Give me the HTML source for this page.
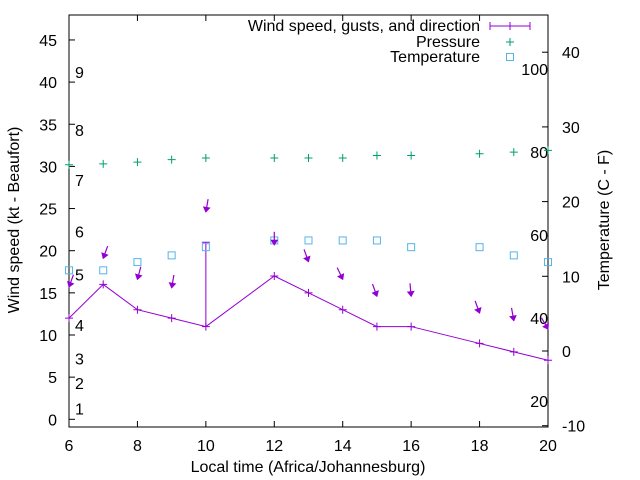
<!DOCTYPE html>
<html><head><meta charset="utf-8"><style>
html,body{margin:0;padding:0;background:#fff;}
svg{display:block;font-family:"Liberation Sans",sans-serif;}
</style></head><body>
<svg id="chart" width="640" height="480" viewBox="0 0 640 480"></svg>
<script>
const hours = [6,7,8,9,10,12,13,14,15,16,18,19,20];
const windSpeed = [12,16,13,12,11,17,15,13,11,11,9,8,7];
const gustHours = [10];
const gustValues = [21];
const pressure = [30.2,30.3,30.5,30.8,31,31,31,31,31.3,31.3,31.5,31.7,31.9];
const temperatureC = [10.8,10.8,11.9,12.8,13.9,14.8,14.8,14.8,14.8,13.9,13.9,12.8,11.9];
const arrowLevel = [15.7,19.1,16.6,15.6,24.6,20.7,18.7,16.6,14.6,14.6,12.6,11.7,10.7];
const windDirDeg = [20,20,15,10,10,0,340,335,340,355,340,350,330];
const xTicks = [6,8,10,12,14,16,18,20];
const yTicks = [0,5,10,15,20,25,30,35,40,45];
const y2Ticks = [-10,0,10,20,30,40];
const beaufortLevels = [1,2,3,4,5,6,7,8,9];
const beaufortKt = [1.3,4.3,7.2,11.2,17.2,22.3,28.4,34.3,41.2];
const fahrenheitTicks = [20,40,60,80,100];

const L=69,R=548,T=15,B=427;
const X=h=>L+(h-6)*(R-L)/14;
const Y=v=>419.3-v*8.43;
const Y2=c=>425.7-(c+10)*7.47;
const ns="http://www.w3.org/2000/svg";
const svg=document.getElementById('chart');
function mk(tag,attrs,parent){const e=document.createElementNS(ns,tag);for(const k in attrs)e.setAttribute(k,attrs[k]);(parent||svg).appendChild(e);return e;}
function txt(s,x,y,anchor,parent,extra){const e=mk('text',Object.assign({x:x,y:y,'font-size':16,fill:'#000','text-anchor':anchor||'start'},extra||{}),parent);e.textContent=s;return e;}

const frame=mk('rect',{x:L,y:T,width:R-L,height:B-T,fill:'none',stroke:'#000','stroke-width':1});



xTicks.forEach(t=>{
  const g=mk('g',{});
  
  
  mk('line',{x1:X(t),x2:X(t),y1:B,y2:B-6,stroke:'#000'},g);
  mk('line',{x1:X(t),x2:X(t),y1:T,y2:T+6,stroke:'#000'},g);
  txt(String(t),X(t),451,'middle',g);
});
yTicks.forEach(t=>{
  const g=mk('g',{});
  
  
  mk('line',{x1:L,x2:L+6,y1:Y(t),y2:Y(t),stroke:'#000'},g);
  txt(String(t),57,Y(t)+6,'end',g);
});
y2Ticks.forEach(t=>{
  const g=mk('g',{});
  
  
  mk('line',{x1:R,x2:R-6,y1:Y2(t),y2:Y2(t),stroke:'#000'},g);
  txt(String(t),562,Y2(t)+6,'start',g);
});
beaufortLevels.forEach((b,i)=>{
  const e=txt(String(b),75,Y(beaufortKt[i])+6,'start');
  
  
});
fahrenheitTicks.forEach(f=>{
  const c=(f-32)*5/9;
  const e=txt(String(f),548,Y2(c)+6,'end');
  
  
});

let e=txt('Local time (Africa/Johannesburg)',308,472,'middle');


e=txt('Wind speed (kt - Beaufort)',0,0,'middle',svg,{transform:'translate(19,220) rotate(-90)'});


e=txt('Temperature (C - F)',0,0,'middle',svg,{transform:'translate(609,220) rotate(-90)'});



const purple='#9400d3',green='#009e73',cyan='#56b4e9';
function plus(x,y,c,parent){mk('path',{d:`M${x-4} ${y}H${x+4}M${x} ${y-4}V${y+4}`,stroke:c,'stroke-width':1,fill:'none'},parent);}
function square(x,y,parent){mk('rect',{x:x-3.5,y:y-3.5,width:7,height:7,fill:'none',stroke:cyan,'stroke-width':1},parent);}

const wl=mk('polyline',{points:hours.map((h,i)=>X(h)+','+Y(windSpeed[i])).join(' '),fill:'none',stroke:purple,'stroke-width':1});


hours.forEach((h,i)=>{
  const g=mk('g',{});
  
  
  plus(X(h),Y(windSpeed[i]),purple,g);
});
gustHours.forEach((h,i)=>{
  const idx=hours.indexOf(h);
  const g=mk('g',{});
  
  
  mk('path',{d:`M${X(h)} ${Y(windSpeed[idx])}V${Y(gustValues[i])}M${X(h)-4} ${Y(gustValues[i])}H${X(h)+4}`,stroke:purple,fill:'none'},g);
});
hours.forEach((h,i)=>{
  const g=mk('g',{});
  
  
  plus(X(h),Y(pressure[i]),green,g);
});
hours.forEach((h,i)=>{
  const g=mk('g',{});
  
  
  square(X(h),Y2(temperatureC[i]),g);
});
hours.forEach((h,i)=>{
  const g=mk('g',{});
  
  
  const hx=X(h),hy=Y(arrowLevel[i]);
  const a=windDirDeg[i]*Math.PI/180;
  const ux=Math.sin(a),uy=-Math.cos(a);
  const len=13;
  mk('line',{x1:hx,y1:hy,x2:hx+ux*len,y2:hy+uy*len,stroke:purple,'stroke-width':1.2},g);
  const px=-uy,py=ux;
  const bx=hx+ux*4.5,by=hy+uy*4.5;
  mk('polygon',{points:`${hx},${hy} ${bx+px*3},${by+py*3} ${bx-px*3},${by-py*3}`,fill:purple,stroke:purple},g);
});

const lg=mk('g',{});


const l1=mk('g',{},lg);


txt('Wind speed, gusts, and direction',480,31,'end',l1);
mk('path',{d:'M490 26H530M490 22V30M530 22V30M510 22V30',stroke:purple,fill:'none'},l1);
const l2=mk('g',{},lg);


txt('Pressure',480,47,'end',l2);
plus(510,42,green,l2);
const l3=mk('g',{},lg);


txt('Temperature',480,62,'end',l3);
square(510,57,l3);
</script>
</body></html>
